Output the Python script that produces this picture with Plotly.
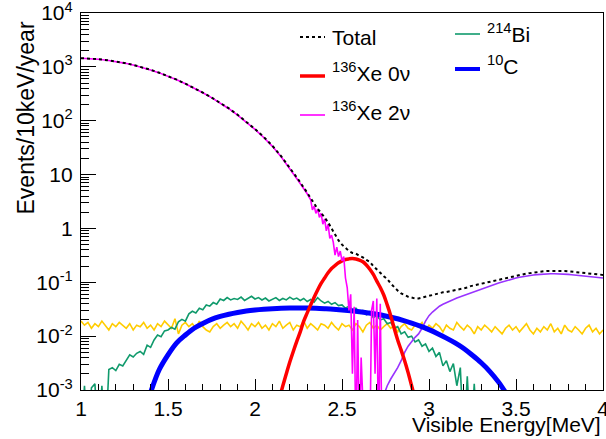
import numpy as np
import plotly.graph_objects as go

# ---------------- data ----------------
EMPTY = 1e-4  # empty bin -> drawn below the 1e-3 axis floor

# 136Xe 2nu: smooth part, 1.00..2.30 MeV, step 0.05
xe2v_smooth_x0, xe2v_smooth_dx = 1.00, 0.05
xe2v_smooth = [1445, 1419, 1380, 1324, 1259, 1175, 1081, 982, 877, 773,
               671, 575, 485, 404, 331, 268, 213, 167, 127, 94.8,
               69, 48.9, 33.4, 21.4, 12.9, 7.6, 4.4]
# 136Xe 2nu: noisy tail, 2.31..2.73 MeV, step 0.01
xe2v_tail_x0, xe2v_tail_dx = 2.31, 0.01
xe2v_tail = [3.8, 3.4, 2.2, 2.6, 1.9, 2.3, 1.6, 1.9, 1.2, 1.5,
             0.9, 1.2, 0.65, 0.75, 0.55, 0.32, 0.45, 0.3, 0.38, 0.25,
             0.3, 0.12, 0.08, 0.03, 0.06, 0.002, 0.035, EMPTY, 0.02, EMPTY,
             0.004, EMPTY, EMPTY, EMPTY, EMPTY, EMPTY, 0.03, 0.045, 0.002, 0.05,
             EMPTY, 0.04, EMPTY]

# Total: 1.00..2.25 step 0.05, then 2.30..4.00 step 0.02
total_a_x0, total_a_dx = 1.00, 0.05
total_a = [1452, 1426, 1387, 1330, 1265, 1181, 1086, 987, 881, 777,
           674, 578, 487, 406, 333, 270, 215, 169, 129, 96,
           70, 50, 34.2, 22, 13.4, 8.0]
total_b_x0, total_b_dx = 2.30, 0.02
total_b = [4.6, 3.6, 2.8, 2.3, 1.95, 1.6, 1.3, 1.0, 0.78, 0.6,
           0.5, 0.43, 0.38, 0.35, 0.34, 0.31, 0.29, 0.26, 0.24, 0.2,
           0.17, 0.15, 0.13, 0.115, 0.095, 0.08, 0.07, 0.062, 0.057, 0.054,
           0.052, 0.05, 0.05, 0.052, 0.054, 0.056, 0.058, 0.06, 0.063, 0.065,
           0.066, 0.068, 0.07, 0.072, 0.075, 0.078, 0.08, 0.085, 0.088, 0.092,
           0.095, 0.098, 0.1, 0.104, 0.108, 0.112, 0.116, 0.12, 0.124, 0.128,
           0.132, 0.136, 0.14, 0.145, 0.148, 0.152, 0.155, 0.157, 0.16, 0.162,
           0.163, 0.164, 0.164, 0.163, 0.162, 0.16, 0.158, 0.156, 0.153, 0.15,
           0.148, 0.145, 0.143, 0.141, 0.139, 0.137]

# 136Xe 0nu: 2.14..2.92 step 0.02
xe0v_x0, xe0v_dx = 2.14, 0.02
xe0v = [0.0007, 0.0012, 0.002, 0.0033, 0.0052, 0.008, 0.012, 0.019, 0.027, 0.038,
        0.053, 0.072, 0.095, 0.12, 0.15, 0.18, 0.205, 0.23, 0.25, 0.265,
        0.272, 0.275, 0.27, 0.258, 0.24, 0.21, 0.175, 0.14, 0.105, 0.08,
        0.058, 0.038, 0.024, 0.014, 0.0085, 0.0055, 0.0035, 0.0021, 0.0012, 0.0007]

# 10C: 1.40..3.45 step 0.05
c10_x0, c10_dx = 1.40, 0.05
c10 = [0.0009, 0.0024, 0.0045, 0.0075, 0.0105, 0.0140, 0.0172, 0.0205, 0.0232, 0.0255,
       0.0275, 0.0292, 0.0305, 0.0315, 0.0323, 0.0329, 0.0332, 0.0333, 0.0332, 0.0329,
       0.0323, 0.0316, 0.0307, 0.0296, 0.0284, 0.0270, 0.0255, 0.0237, 0.0217, 0.0196,
       0.0175, 0.0154, 0.0132, 0.0111, 0.0092, 0.0075, 0.0059, 0.0044, 0.0032, 0.0022,
       0.0014, 0.0008]

# 214Bi: 1.00..3.30 step 0.02
bi214_x0, bi214_dx = 1.00, 0.02
bi214 = [EMPTY, 0.0012, EMPTY, 0.0011, 0.0013, EMPTY, 0.0012, EMPTY, 0.0024, 0.0026,
         0.0023, 0.003, 0.0028, 0.0035, 0.0045, 0.0041, 0.0048, 0.0052, 0.0046, 0.0068,
         0.0062, 0.0085, 0.0105, 0.0098, 0.0125, 0.013, 0.0145, 0.0135, 0.0185, 0.0205,
         0.019, 0.026, 0.029, 0.027, 0.033, 0.031, 0.038, 0.036, 0.042, 0.039,
         0.049, 0.046, 0.052, 0.047, 0.05, 0.048, 0.053, 0.046, 0.05, 0.055,
         0.049, 0.052, 0.047, 0.051, 0.045, 0.049, 0.052, 0.046, 0.05, 0.047,
         0.053, 0.048, 0.051, 0.046, 0.05, 0.044, 0.048, 0.043, 0.052, 0.045,
         0.041, 0.044, 0.039, 0.042, 0.037, 0.038, 0.033, 0.036, 0.031, 0.033,
         0.028, 0.03, 0.025, 0.027, 0.022, 0.024, 0.02, 0.021, 0.017, 0.018,
         0.014, 0.015, 0.011, 0.012, 0.0095, 0.01, 0.0078, 0.0085, 0.0065, 0.0072,
         0.0052, 0.006, 0.0042, 0.005, 0.0028, 0.0035, 0.0022, 0.0031, 0.0012, 0.0026,
         EMPTY, 0.0018, EMPTY, 0.0013, EMPTY, EMPTY]

# flat background (yellow): 1.00..4.00 step 0.02
flat_x0, flat_dx = 1.00, 0.02
flat = [0.019, 0.016, 0.018, 0.014, 0.017, 0.015, 0.019, 0.016, 0.013, 0.017,
        0.015, 0.018, 0.016, 0.014, 0.017, 0.013, 0.016, 0.015, 0.018, 0.014,
        0.016, 0.013, 0.017, 0.015, 0.019, 0.016, 0.014, 0.021, 0.011, 0.016,
        0.018, 0.015, 0.017, 0.014, 0.019, 0.015, 0.013, 0.012, 0.015, 0.017,
        0.014, 0.016, 0.018, 0.015, 0.017, 0.014, 0.019, 0.016, 0.013, 0.017,
        0.015, 0.018, 0.014, 0.016, 0.013, 0.017, 0.015, 0.019, 0.014, 0.016,
        0.018, 0.013, 0.016, 0.015, 0.019, 0.014, 0.017, 0.015, 0.013, 0.017,
        0.016, 0.014, 0.018, 0.015, 0.013, 0.017, 0.015, 0.016, 0.013, 0.017,
        0.015, 0.012, 0.016, 0.018, 0.014, 0.016, 0.013, 0.015, 0.017, 0.014,
        0.016, 0.012, 0.015, 0.017, 0.014, 0.013, 0.016, 0.015, 0.018, 0.013,
        0.016, 0.014, 0.017, 0.015, 0.012, 0.016, 0.014, 0.013, 0.018, 0.015,
        0.013, 0.016, 0.014, 0.011, 0.015, 0.013, 0.016, 0.014, 0.012, 0.015,
        0.013, 0.011, 0.014, 0.016, 0.013, 0.015, 0.012, 0.014, 0.017, 0.013,
        0.011, 0.014, 0.012, 0.015, 0.013, 0.017, 0.012, 0.014, 0.011, 0.016,
        0.013, 0.012, 0.015, 0.013, 0.011, 0.014, 0.016, 0.012, 0.014, 0.011,
        0.013]

# rising high-energy background (purple): 2.74..4.00 step 0.02
high_x0, high_dx = 2.74, 0.02
high = [0.0008, 0.0012, 0.0016, 0.002, 0.0026, 0.0035, 0.005, 0.0065, 0.008, 0.0095,
        0.011, 0.014, 0.019, 0.024, 0.028, 0.032, 0.036, 0.039, 0.042, 0.045,
        0.048, 0.051, 0.054, 0.057, 0.06, 0.064, 0.068, 0.072, 0.076, 0.08,
        0.084, 0.088, 0.092, 0.097, 0.101, 0.106, 0.111, 0.116, 0.12, 0.124,
        0.128, 0.131, 0.134, 0.137, 0.139, 0.141, 0.142, 0.143, 0.144, 0.144,
        0.144, 0.143, 0.142, 0.14, 0.138, 0.136, 0.134, 0.132, 0.13, 0.128,
        0.126, 0.124, 0.122, 0.12]

x_ticks = [1, 1.5, 2, 2.5, 3, 3.5, 4]
x_ticklabels = ["1", "1.5", "2", "2.5", "3", "3.5", "4"]
y_ticks = [1e-3, 1e-2, 1e-1, 1, 10, 1e2, 1e3, 1e4]
y_ticklabels = ["10<sup>-3</sup>", "10<sup>-2</sup>", "10<sup>-1</sup>", "1", "10",
                "10<sup>2</sup>", "10<sup>3</sup>", "10<sup>4</sup>"]


def grid(x0, dx, vals):
    return list(np.round(x0 + dx * np.arange(len(vals)), 3))


# ---------------- figure ----------------
FONT = "Liberation Sans, Arial, sans-serif"
RED, MAGENTA, GREEN, BLUE = "#ff0000", "#ff00ff", "#109a6c", "#0000ff"
YELLOW, PURPLE = "#ffcc00", "#9933ff"

fig = go.Figure()

def add(x, y, color, width, dash="solid", shape="linear"):
    fig.add_trace(go.Scatter(x=x, y=y, mode="lines", showlegend=False,
                             line=dict(color=color, width=width, dash=dash, shape=shape),
                             hoverinfo="skip"))

add(grid(flat_x0, flat_dx, flat), flat, YELLOW, 1.6)
add(grid(bi214_x0, bi214_dx, bi214), bi214, GREEN, 1.6)
add(grid(high_x0, high_dx, high), high, PURPLE, 1.6)
add(grid(c10_x0, c10_dx, c10), c10, BLUE, 5, shape="spline")
add(grid(xe0v_x0, xe0v_dx, xe0v), xe0v, RED, 3.5, shape="spline")
add(grid(xe2v_smooth_x0, xe2v_smooth_dx, xe2v_smooth) + grid(xe2v_tail_x0, xe2v_tail_dx, xe2v_tail),
    xe2v_smooth + xe2v_tail, MAGENTA, 1.6)
add(grid(total_a_x0, total_a_dx, total_a) + grid(total_b_x0, total_b_dx, total_b),
    total_a + total_b, "#000000", 2, dash="3px,3px")

# minor tick positions of the log axis
y_minor = [m * 10.0 ** e for e in range(-3, 4) for m in range(2, 10)]

fig.update_xaxes(range=[1, 4], tickmode="array", tickvals=x_ticks, ticktext=x_ticklabels,
                 ticks="inside", ticklen=11, tickwidth=1, tickcolor="black",
                 minor=dict(dtick=0.1, tick0=1, ticks="inside", ticklen=6, tickcolor="black"),
                 showline=True, linecolor="black", linewidth=1.2, mirror=True,
                 showgrid=False, zeroline=False, automargin=False, ticklabeloverflow="allow",
                 tickfont=dict(family=FONT, size=21, color="black"), ticklabelstandoff=0)
fig.update_yaxes(type="log", range=[-3, 4], tickmode="array", tickvals=y_ticks,
                 ticktext=y_ticklabels, ticks="inside", ticklen=15, tickwidth=1, tickcolor="black",
                 minor=dict(tickmode="array", tickvals=y_minor, ticks="inside", ticklen=8,
                            tickcolor="black"),
                 showline=True, linecolor="black", linewidth=1.2, mirror=True,
                 showgrid=False, zeroline=False, automargin=False, ticklabeloverflow="allow",
                 tickfont=dict(family=FONT, size=21, color="black"), ticklabelstandoff=3)

L, R, T, B = 81, 3, 13, 49
W, H = 606, 439
PW, PH = W - L - R, H - T - B

def px(x):
    return (x - L) / PW

def py(y):
    return (H - B - y) / PH

annotations = [
    dict(text="Visible Energy[MeV]", x=1.0, y=py(424), xanchor="right", yanchor="middle"),
    dict(text="Events/10keV/year", x=px(25), y=py(20), xanchor="center", yanchor="top",
         textangle=-90, size=23),
    dict(text="Total", x=px(330), y=py(37), xanchor="left", yanchor="middle"),
    dict(text="<sup>136</sup>Xe 0\u03bd", x=px(330), y=py(72), xanchor="left", yanchor="middle"),
    dict(text="<sup>136</sup>Xe 2\u03bd", x=px(330), y=py(111), xanchor="left", yanchor="middle"),
    dict(text="<sup>214</sup>Bi", x=px(485), y=py(33), xanchor="left", yanchor="middle"),
    dict(text="<sup>10</sup>C", x=px(485), y=py(65), xanchor="left", yanchor="middle"),
]
ann = []
for a in annotations:
    size = a.pop("size", 21)
    ann.append(dict(xref="paper", yref="paper", showarrow=False,
                    font=dict(family=FONT, size=size, color="black"), **a))

legend_lines = [
    (300, 325, 37, "#000000", 2, "3px,3px"),
    (300, 325, 76, RED, 3.5, "solid"),
    (300, 325, 115, MAGENTA, 1.6, "solid"),
    (455, 480, 34, GREEN, 1.6, "solid"),
    (455, 480, 69, BLUE, 4, "solid"),
]
shapes = [dict(type="line", xref="paper", yref="paper", x0=px(a), x1=px(b), y0=py(y), y1=py(y),
               line=dict(color=c, width=w, dash=d)) for a, b, y, c, w, d in legend_lines]

fig.update_layout(width=W, height=H, margin=dict(l=L, r=R, t=T, b=B),
                  paper_bgcolor="white", plot_bgcolor="white",
                  annotations=ann, shapes=shapes, showlegend=False)

fig.write_html("out.html", config={"displayModeBar": False},
               post_script="document.body.style.margin='0px';")
